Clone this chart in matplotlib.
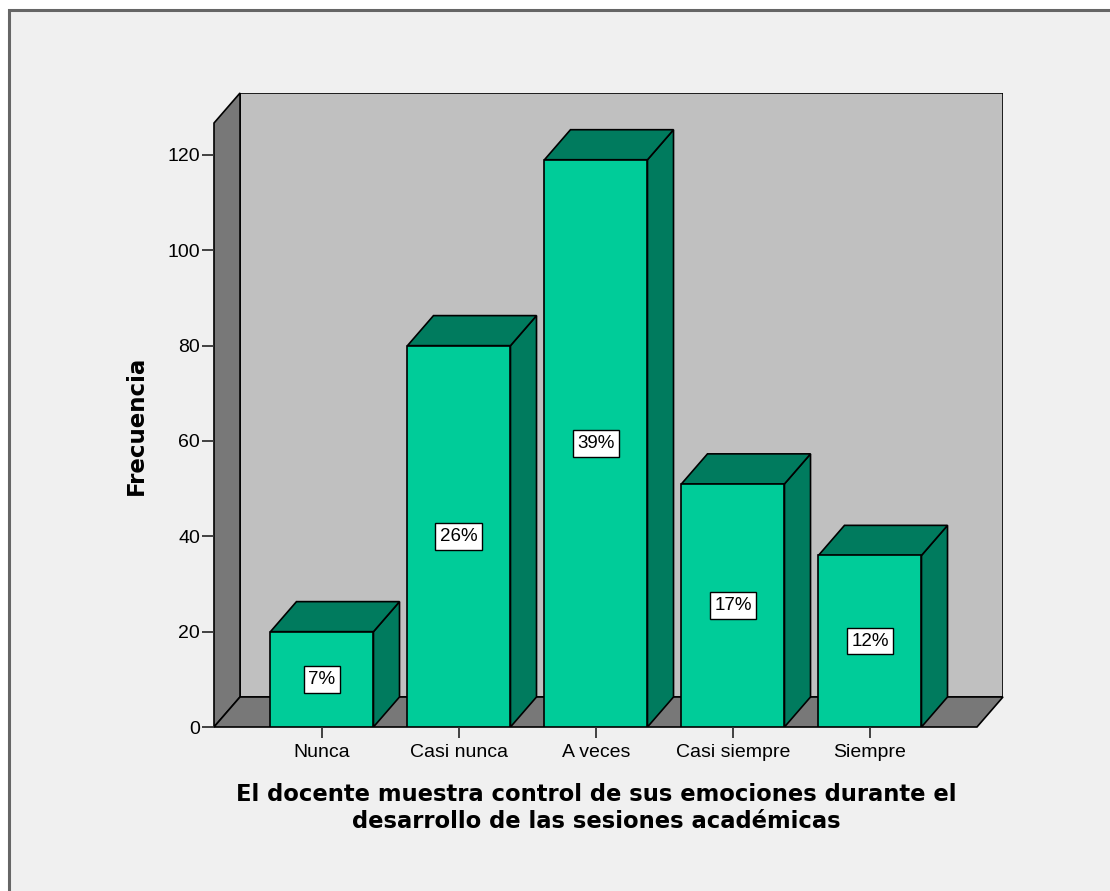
import matplotlib.pyplot as plt
from matplotlib.patches import Polygon, Rectangle

categorias = ['Nunca', 'Casi nunca', 'A veces', 'Casi siempre', 'Siempre']
frecuencias = [20, 80, 119, 51, 36]
porcentajes = ['7%', '26%', '39%', '17%', '12%']
yticks = [0, 20, 40, 60, 80, 100, 120]

frente = '#00cc99'
oscuro = '#007b5e'
pared = '#c0c0c0'
gris = '#787878'

fig = plt.figure(figsize=(11.1, 8.91), dpi=100, facecolor='white')
fig.patches.append(Rectangle((9 / 1110, -0.05), 1.2, 1 - 10 / 891 + 0.05,
                             transform=fig.transFigure, facecolor='#f0f0f0',
                             edgecolor='#666666', lw=2.2, zorder=-10))

ax = fig.add_axes([214 / 1110, 1 - 727 / 891, 789 / 1110, 634 / 891])
ax.patch.set_visible(False)
x0, x1 = -0.788, 4.971
ytop = 133.0
ax.set_xlim(x0, x1)
ax.set_ylim(0, ytop)

# profundidad del efecto 3D en unidades de datos
dx, dy = 0.19, 6.3
xfront = x1 - dx

ax.add_patch(Polygon([(x0 + dx, dy), (x1, dy), (x1, ytop), (x0 + dx, ytop)],
                     facecolor=pared, edgecolor='black', lw=1.2))
ax.add_patch(Polygon([(x0, 0), (x0 + dx, dy), (x0 + dx, ytop), (x0, ytop - dy)],
                     facecolor=gris, edgecolor='black', lw=1.2, clip_on=False))
ax.add_patch(Polygon([(x0, 0), (xfront, 0), (x1, dy), (x0 + dx, dy)],
                     facecolor=gris, edgecolor='black', lw=1.2, clip_on=False))

w = 0.752
for i, (v, p) in enumerate(zip(frecuencias, porcentajes)):
    a, b = i - w / 2, i + w / 2
    ax.add_patch(Polygon([(b, 0), (b + dx, dy), (b + dx, v + dy), (b, v)],
                         facecolor=oscuro, edgecolor='black', lw=1.2))
    ax.add_patch(Polygon([(a, v), (b, v), (b + dx, v + dy), (a + dx, v + dy)],
                         facecolor=oscuro, edgecolor='black', lw=1.2))
    ax.add_patch(Rectangle((a, 0), w, v, facecolor=frente, edgecolor='black', lw=1.2))
    ax.text(i, v / 2, p, ha='center', va='center', fontsize=13.5,
            family='Liberation Sans',
            bbox=dict(boxstyle='square,pad=0.25', facecolor='white',
                      edgecolor='black', lw=1.0))

for s in ax.spines.values():
    s.set_visible(False)
ax.set_xticks(range(len(categorias)))
ax.set_xticklabels(categorias, family='Liberation Sans', fontsize=14)
ax.set_yticks(yticks)
ax.set_yticklabels([str(t) for t in yticks], family='Liberation Sans', fontsize=14)
ax.tick_params(axis='y', length=9, width=1.3, color='#333333', pad=1)
ax.tick_params(axis='x', length=8, width=1.3, color='#333333', pad=4)

ax.set_ylabel('Frecuencia', fontsize=16.5, fontweight='bold', family='DejaVu Sans')
ax.yaxis.set_label_coords(-0.0837, 0.476)
ax.set_xlabel('El docente muestra control de sus emociones durante el\n'
              'desarrollo de las sesiones académicas',
              fontsize=16.3, fontweight='bold', family='DejaVu Sans',
              linespacing=1.2, va='center')
ax.xaxis.set_label_coords(0.484, -0.128)

fig.savefig('out.png', dpi=100, facecolor='white')
